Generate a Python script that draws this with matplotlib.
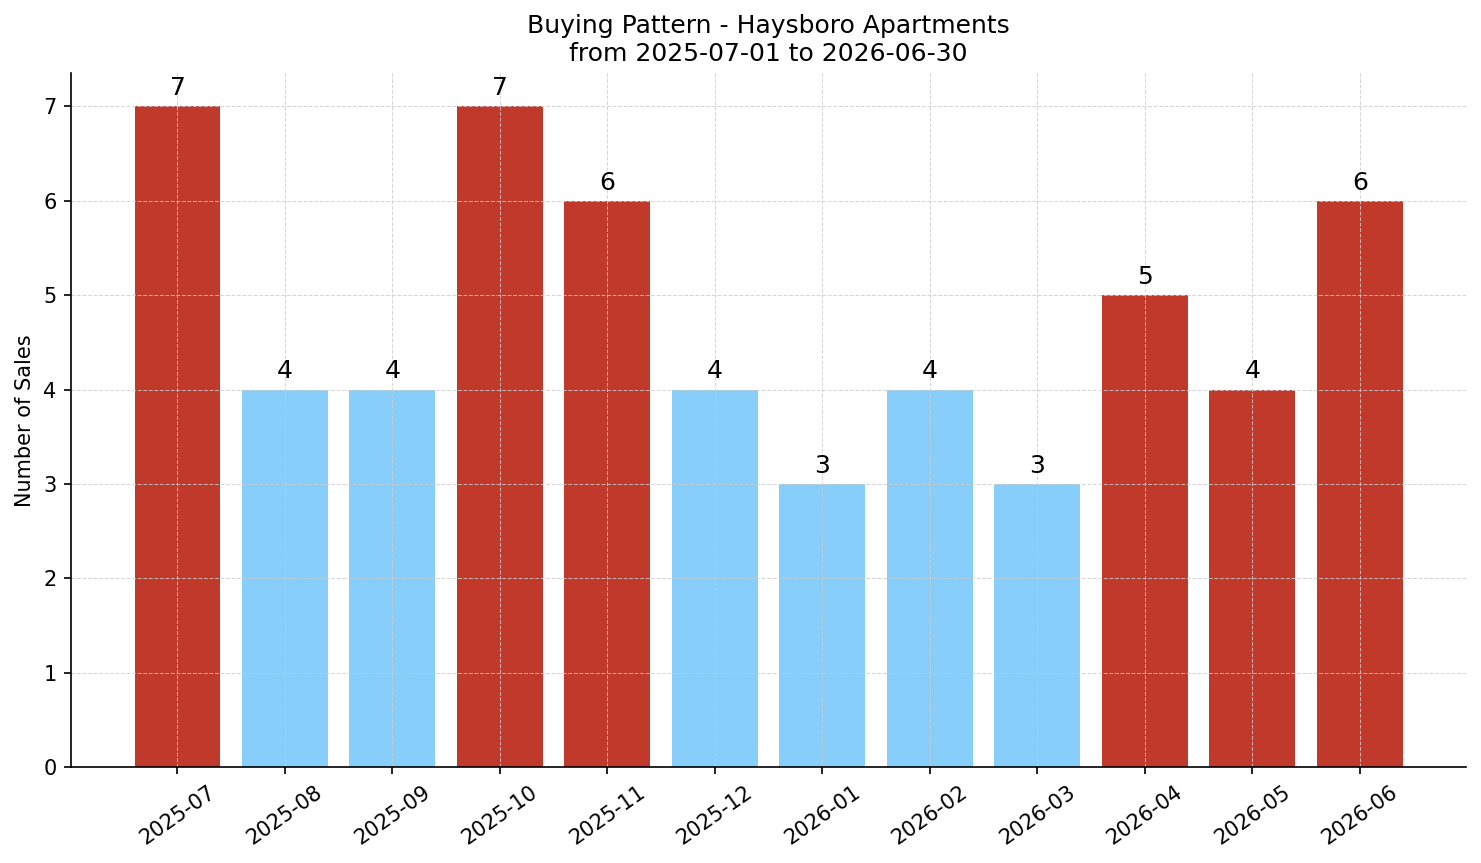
import numpy as np
from matplotlib import pyplot as plt

# monthly sales counts
months = ['2025-07', '2025-08', '2025-09', '2025-10', '2025-11', '2025-12',
          '2026-01', '2026-02', '2026-03', '2026-04', '2026-05', '2026-06']
sales = [7, 4, 4, 7, 6, 4, 3, 4, 3, 5, 4, 6]
high = [True, False, False, True, True, False, False, False, False, True, True, True]

colors = ['#c0392b' if h else '#87cefa' for h in high]

fig, ax = plt.subplots(figsize=(1481 / 150, 863 / 150), dpi=150)
fig.subplots_adjust(left=0.048, right=0.99, bottom=0.111, top=0.915)

x = np.arange(len(months))
bars = ax.bar(x, sales, color=colors, width=0.8)

for b, v in zip(bars, sales):
    ax.annotate(str(v), (b.get_x() + b.get_width() / 2, v), xytext=(0, 3),
                textcoords='offset points', ha='center', va='bottom', fontsize=12)

ax.set_xticks(x)
ax.set_xticklabels(months, rotation=35, ha='center')
ax.set_ylabel('Number of Sales')
ax.set_title('Buying Pattern - Haysboro Apartments\nfrom 2025-07-01 to 2026-06-30', fontsize=12)
ax.grid(True, linestyle='--', color='#cccccc', linewidth=0.5, alpha=0.8)
ax.spines['top'].set_visible(False)
ax.spines['right'].set_visible(False)

fig.savefig('out.png', dpi=150)
